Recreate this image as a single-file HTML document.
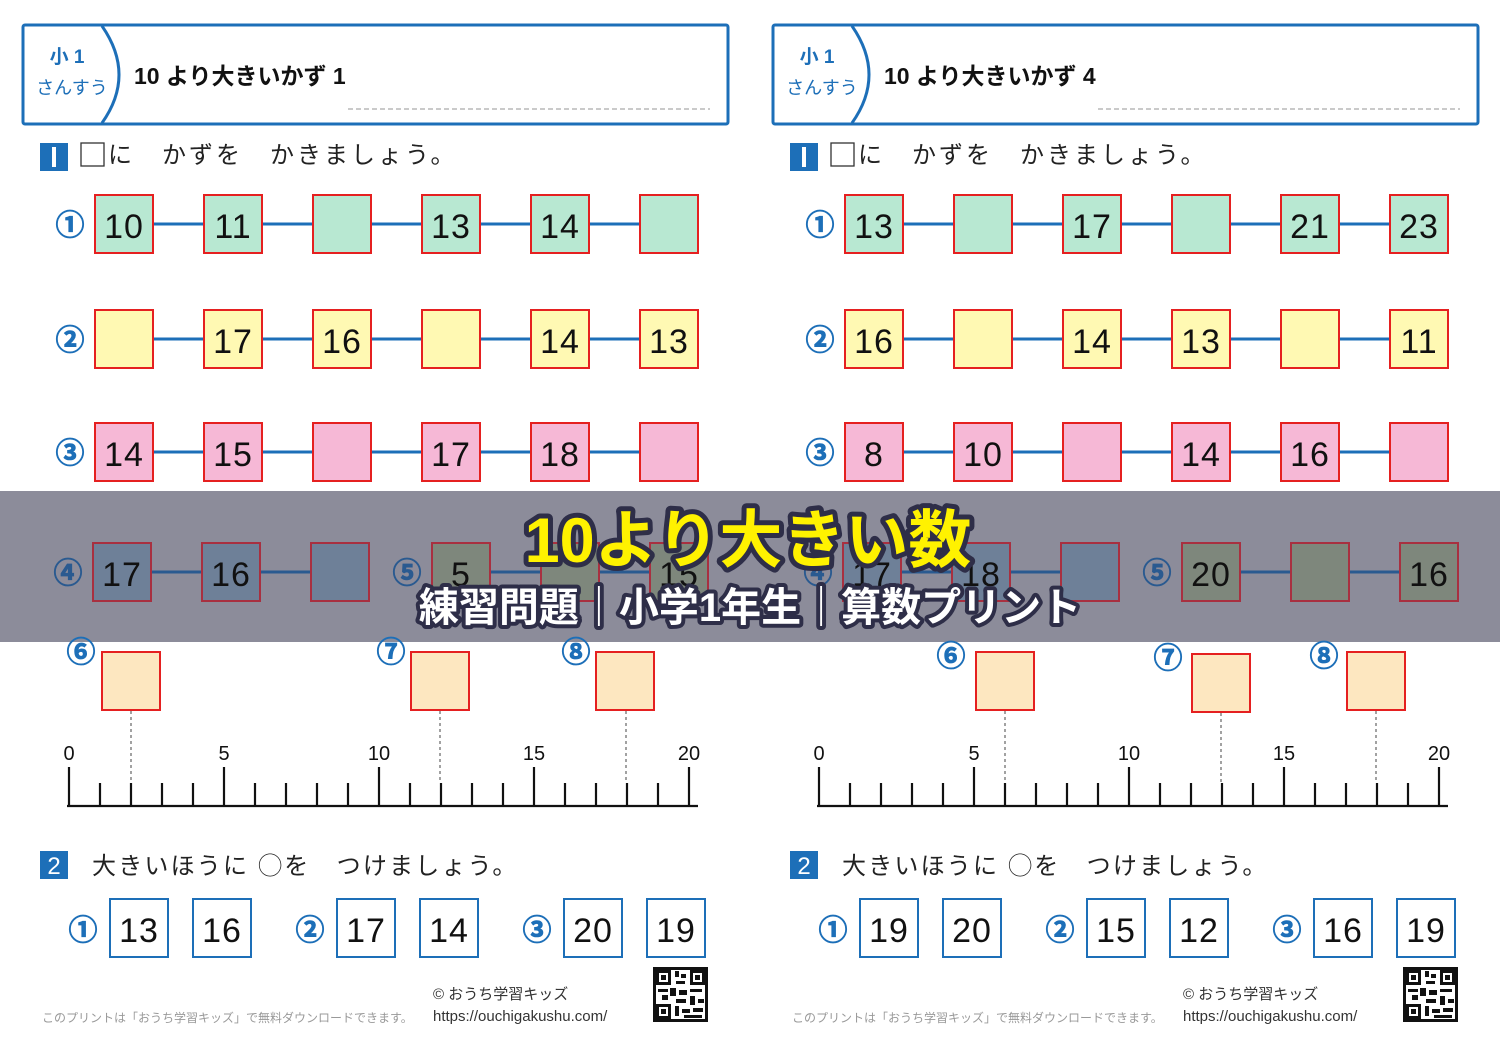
<!DOCTYPE html>
<html><head><meta charset="utf-8"><style>
html,body{margin:0;padding:0;background:#fff}
svg{display:block}
text{font-family:"Liberation Sans","Noto Sans CJK JP",sans-serif}
.n{font-size:34px;fill:#111;text-anchor:middle;letter-spacing:1px}
.c{font-size:29px;fill:#1d6fb8;font-weight:bold;text-anchor:middle;stroke:#1d6fb8;stroke-width:0.8}
.g{fill:#b8e8d2;stroke:#e52020;stroke-width:2}
.y{fill:#fff9b3;stroke:#e52020;stroke-width:2}
.p{fill:#f6b8d6;stroke:#e52020;stroke-width:2}
.o{fill:#fde7c0;stroke:#e52020;stroke-width:2}
.b4{fill:#6e8098;stroke:#a83040;stroke-width:2}
.b5{fill:#7e877c;stroke:#a83040;stroke-width:2}
.bl{fill:#fff;stroke:#1d6fb8;stroke-width:2}
.ln{stroke:#1d6fb8;stroke-width:3}
.l4{stroke:#2a5a90;stroke-width:3}
.lab{font-size:20px;fill:#111;text-anchor:middle}
.tk{stroke:#111;stroke-width:2.2}
.ds{stroke:#444;stroke-width:1;stroke-dasharray:3,3}
.ins{font-size:24px;fill:#222;letter-spacing:3px}
.ins2{font-size:24px;fill:#222;letter-spacing:2.2px}
</style></head><body>
<svg width="1500" height="1052" viewBox="0 0 1500 1052" xmlns="http://www.w3.org/2000/svg">
<!-- LEFT PANEL -->
<g>
<rect x="23" y="25" width="705" height="99" fill="#fff" stroke="#1d6fb8" stroke-width="3" rx="2"/>
<path d="M102 26 Q136 75 102 123" fill="none" stroke="#1d6fb8" stroke-width="3"/>
<text x="67" y="63" font-size="19" font-weight="bold" fill="#1d6fb8" text-anchor="middle">小 1</text>
<text x="72" y="94" font-size="18" fill="#1d6fb8" text-anchor="middle">さんすう</text>
<text x="134" y="84" font-size="23" font-weight="bold" fill="#111">10 より大きいかず 1</text>
<line x1="348" y1="109" x2="710" y2="109" stroke="#aaa" stroke-width="1.2" stroke-dasharray="5,3"/>
<rect x="40" y="143" width="28" height="28" fill="#1d6fb8"/><rect x="52" y="147" width="4" height="20" fill="#fff"/>
<rect x="81" y="143" width="23" height="23" fill="#fff" stroke="#333" stroke-width="1.3"/>
<text x="108" y="163" class="ins">に　かずを　かきましょう。</text>

<line x1="124" y1="224" x2="698" y2="224" class="ln"/>
<text x="70" y="235" class="c">①</text>
<rect x="95" y="195" width="58" height="58" class="g"/><text x="124" y="238" class="n">10</text>
<rect x="204" y="195" width="58" height="58" class="g"/><text x="233" y="238" class="n">11</text>
<rect x="313" y="195" width="58" height="58" class="g"/>
<rect x="422" y="195" width="58" height="58" class="g"/><text x="451" y="238" class="n">13</text>
<rect x="531" y="195" width="58" height="58" class="g"/><text x="560" y="238" class="n">14</text>
<rect x="640" y="195" width="58" height="58" class="g"/>

<line x1="124" y1="339" x2="698" y2="339" class="ln"/>
<text x="70" y="350" class="c">②</text>
<rect x="95" y="310" width="58" height="58" class="y"/>
<rect x="204" y="310" width="58" height="58" class="y"/><text x="233" y="353" class="n">17</text>
<rect x="313" y="310" width="58" height="58" class="y"/><text x="342" y="353" class="n">16</text>
<rect x="422" y="310" width="58" height="58" class="y"/>
<rect x="531" y="310" width="58" height="58" class="y"/><text x="560" y="353" class="n">14</text>
<rect x="640" y="310" width="58" height="58" class="y"/><text x="669" y="353" class="n">13</text>

<line x1="124" y1="452" x2="698" y2="452" class="ln"/>
<text x="70" y="463" class="c">③</text>
<rect x="95" y="423" width="58" height="58" class="p"/><text x="124" y="466" class="n">14</text>
<rect x="204" y="423" width="58" height="58" class="p"/><text x="233" y="466" class="n">15</text>
<rect x="313" y="423" width="58" height="58" class="p"/>
<rect x="422" y="423" width="58" height="58" class="p"/><text x="451" y="466" class="n">17</text>
<rect x="531" y="423" width="58" height="58" class="p"/><text x="560" y="466" class="n">18</text>
<rect x="640" y="423" width="58" height="58" class="p"/>
</g>
<!-- RIGHT PANEL -->
<g>
<rect x="773" y="25" width="705" height="99" fill="#fff" stroke="#1d6fb8" stroke-width="3" rx="2"/>
<path d="M852 26 Q886 75 852 123" fill="none" stroke="#1d6fb8" stroke-width="3"/>
<text x="817" y="63" font-size="19" font-weight="bold" fill="#1d6fb8" text-anchor="middle">小 1</text>
<text x="822" y="94" font-size="18" fill="#1d6fb8" text-anchor="middle">さんすう</text>
<text x="884" y="84" font-size="23" font-weight="bold" fill="#111">10 より大きいかず 4</text>
<line x1="1098" y1="109" x2="1460" y2="109" stroke="#aaa" stroke-width="1.2" stroke-dasharray="5,3"/>
<rect x="790" y="143" width="28" height="28" fill="#1d6fb8"/><rect x="802" y="147" width="4" height="20" fill="#fff"/>
<rect x="831" y="143" width="23" height="23" fill="#fff" stroke="#333" stroke-width="1.3"/>
<text x="858" y="163" class="ins">に　かずを　かきましょう。</text>

<line x1="874" y1="224" x2="1448" y2="224" class="ln"/>
<text x="820" y="235" class="c">①</text>
<rect x="845" y="195" width="58" height="58" class="g"/><text x="874" y="238" class="n">13</text>
<rect x="954" y="195" width="58" height="58" class="g"/>
<rect x="1063" y="195" width="58" height="58" class="g"/><text x="1092" y="238" class="n">17</text>
<rect x="1172" y="195" width="58" height="58" class="g"/>
<rect x="1281" y="195" width="58" height="58" class="g"/><text x="1310" y="238" class="n">21</text>
<rect x="1390" y="195" width="58" height="58" class="g"/><text x="1419" y="238" class="n">23</text>

<line x1="874" y1="339" x2="1448" y2="339" class="ln"/>
<text x="820" y="350" class="c">②</text>
<rect x="845" y="310" width="58" height="58" class="y"/><text x="874" y="353" class="n">16</text>
<rect x="954" y="310" width="58" height="58" class="y"/>
<rect x="1063" y="310" width="58" height="58" class="y"/><text x="1092" y="353" class="n">14</text>
<rect x="1172" y="310" width="58" height="58" class="y"/><text x="1201" y="353" class="n">13</text>
<rect x="1281" y="310" width="58" height="58" class="y"/>
<rect x="1390" y="310" width="58" height="58" class="y"/><text x="1419" y="353" class="n">11</text>

<line x1="874" y1="452" x2="1448" y2="452" class="ln"/>
<text x="820" y="463" class="c">③</text>
<rect x="845" y="423" width="58" height="58" class="p"/><text x="874" y="466" class="n">8</text>
<rect x="954" y="423" width="58" height="58" class="p"/><text x="983" y="466" class="n">10</text>
<rect x="1063" y="423" width="58" height="58" class="p"/>
<rect x="1172" y="423" width="58" height="58" class="p"/><text x="1201" y="466" class="n">14</text>
<rect x="1281" y="423" width="58" height="58" class="p"/><text x="1310" y="466" class="n">16</text>
<rect x="1390" y="423" width="58" height="58" class="p"/>
</g>

<!-- OVERLAY BAND -->
<rect x="0" y="491" width="1500" height="151" fill="#8c8c9a"/>
<g>
<line x1="122" y1="572" x2="340" y2="572" class="l4"/>
<text x="68" y="583" class="c" style="fill:#2a5a90;stroke:#2a5a90">④</text>
<rect x="93" y="543" width="58" height="58" class="b4"/><text x="122" y="586" class="n">17</text>
<rect x="202" y="543" width="58" height="58" class="b4"/><text x="231" y="586" class="n">16</text>
<rect x="311" y="543" width="58" height="58" class="b4"/>
<line x1="461" y1="572" x2="679" y2="572" class="l4"/>
<text x="407" y="583" class="c" style="fill:#2a5a90;stroke:#2a5a90">⑤</text>
<rect x="432" y="543" width="58" height="58" class="b5"/><text x="461" y="586" class="n">5</text>
<rect x="541" y="543" width="58" height="58" class="b5"/>
<rect x="650" y="543" width="58" height="58" class="b5"/><text x="679" y="586" class="n">15</text>

<line x1="872" y1="572" x2="1090" y2="572" class="l4"/>
<text x="818" y="583" class="c" style="fill:#2a5a90;stroke:#2a5a90">④</text>
<rect x="843" y="543" width="58" height="58" class="b4"/><text x="872" y="586" class="n">17</text>
<rect x="952" y="543" width="58" height="58" class="b4"/><text x="981" y="586" class="n">18</text>
<rect x="1061" y="543" width="58" height="58" class="b4"/>
<line x1="1211" y1="572" x2="1429" y2="572" class="l4"/>
<text x="1157" y="583" class="c" style="fill:#2a5a90;stroke:#2a5a90">⑤</text>
<rect x="1182" y="543" width="58" height="58" class="b5"/><text x="1211" y="586" class="n">20</text>
<rect x="1291" y="543" width="58" height="58" class="b5"/>
<rect x="1400" y="543" width="58" height="58" class="b5"/><text x="1429" y="586" class="n">16</text>
</g>
<text x="748" y="562" text-anchor="middle" font-size="63" font-weight="bold" fill="#fff200" stroke="#2e2e48" stroke-width="10" stroke-linejoin="round" style="paint-order:stroke">10より大きい数</text>
<text x="750" y="621" text-anchor="middle" font-size="40" font-weight="bold" fill="#fff" stroke="#2e2e48" stroke-width="8" stroke-linejoin="round" style="paint-order:stroke">練習問題｜小学1年生｜算数プリント</text>

<!-- NUMBER LINE LEFT -->
<g>
<text x="81" y="662" class="c">⑥</text><text x="391" y="662" class="c">⑦</text><text x="576" y="662" class="c">⑧</text>
<rect x="102" y="652" width="58" height="58" class="o"/>
<rect x="411" y="652" width="58" height="58" class="o"/>
<rect x="596" y="652" width="58" height="58" class="o"/>
<line x1="131" y1="711" x2="131" y2="783" class="ds"/>
<line x1="440" y1="711" x2="440" y2="783" class="ds"/>
<line x1="626" y1="711" x2="626" y2="783" class="ds"/>
<text x="69" y="760" class="lab">0</text><text x="224" y="760" class="lab">5</text><text x="379" y="760" class="lab">10</text><text x="534" y="760" class="lab">15</text><text x="689" y="760" class="lab">20</text>
<line x1="67" y1="806" x2="698" y2="806" class="tk"/>
<path class="tk" d="M69 767V806M224 767V806M379 767V806M534 767V806M689 767V806M100 783V806M131 783V806M162 783V806M193 783V806M255 783V806M286 783V806M317 783V806M348 783V806M410 783V806M441 783V806M472 783V806M503 783V806M565 783V806M596 783V806M627 783V806M658 783V806"/>
</g>
<!-- NUMBER LINE RIGHT -->
<g>
<text x="951" y="666" class="c">⑥</text><text x="1168" y="668" class="c">⑦</text><text x="1324" y="666" class="c">⑧</text>
<rect x="976" y="652" width="58" height="58" class="o"/>
<rect x="1192" y="654" width="58" height="58" class="o"/>
<rect x="1347" y="652" width="58" height="58" class="o"/>
<line x1="1005" y1="711" x2="1005" y2="783" class="ds"/>
<line x1="1221" y1="713" x2="1221" y2="783" class="ds"/>
<line x1="1376" y1="711" x2="1376" y2="783" class="ds"/>
<text x="819" y="760" class="lab">0</text><text x="974" y="760" class="lab">5</text><text x="1129" y="760" class="lab">10</text><text x="1284" y="760" class="lab">15</text><text x="1439" y="760" class="lab">20</text>
<line x1="817" y1="806" x2="1448" y2="806" class="tk"/>
<path class="tk" d="M819 767V806M974 767V806M1129 767V806M1284 767V806M1439 767V806M850 783V806M881 783V806M912 783V806M943 783V806M1005 783V806M1036 783V806M1067 783V806M1098 783V806M1160 783V806M1191 783V806M1222 783V806M1253 783V806M1315 783V806M1346 783V806M1377 783V806M1408 783V806"/>
</g>

<!-- SECTION 2 LEFT -->
<g>
<rect x="40" y="851" width="28" height="28" fill="#1d6fb8"/><text x="54" y="874" font-size="24" fill="#fff" text-anchor="middle">2</text>
<text x="92" y="874" class="ins2">大きいほうに ◯を　つけましょう。</text>
<text x="83" y="940" class="c">①</text>
<rect x="110" y="899" width="58" height="58" class="bl"/><text x="139" y="942" class="n">13</text>
<rect x="193" y="899" width="58" height="58" class="bl"/><text x="222" y="942" class="n">16</text>
<text x="310" y="940" class="c">②</text>
<rect x="337" y="899" width="58" height="58" class="bl"/><text x="366" y="942" class="n">17</text>
<rect x="420" y="899" width="58" height="58" class="bl"/><text x="449" y="942" class="n">14</text>
<text x="537" y="940" class="c">③</text>
<rect x="564" y="899" width="58" height="58" class="bl"/><text x="593" y="942" class="n">20</text>
<rect x="647" y="899" width="58" height="58" class="bl"/><text x="676" y="942" class="n">19</text>
<text x="433" y="999" font-size="15" fill="#333">© おうち学習キッズ</text>
<text x="433" y="1021" font-size="15" fill="#333">https://ouchigakushu.com/</text>
<text x="42" y="1022" font-size="12" fill="#999">このプリントは「おうち学習キッズ」で無料ダウンロードできます。</text>
<g fill="#111"><rect x="653" y="967" width="55" height="55"/><rect x="656" y="970" width="49" height="49" fill="#fff"/>
<rect x="656" y="970" width="15" height="15"/><rect x="659" y="973" width="9" height="9" fill="#fff"/><rect x="661" y="975" width="5" height="5"/>
<rect x="690" y="970" width="15" height="15"/><rect x="693" y="973" width="9" height="9" fill="#fff"/><rect x="695" y="975" width="5" height="5"/>
<rect x="656" y="1004" width="15" height="15"/><rect x="659" y="1007" width="9" height="9" fill="#fff"/><rect x="661" y="1009" width="5" height="5"/>
<rect x="675" y="971" width="4" height="6"/><rect x="681" y="974" width="5" height="4"/><rect x="676" y="981" width="9" height="3"/><rect x="658" y="989" width="10" height="3"/><rect x="670" y="988" width="6" height="8"/><rect x="679" y="990" width="8" height="5"/><rect x="690" y="989" width="12" height="3"/><rect x="662" y="995" width="6" height="5"/><rect x="676" y="999" width="10" height="4"/><rect x="690" y="996" width="5" height="9"/><rect x="698" y="999" width="6" height="4"/><rect x="675" y="1006" width="4" height="10"/><rect x="682" y="1009" width="8" height="4"/><rect x="693" y="1008" width="10" height="4"/><rect x="684" y="1015" width="18" height="3"/></g>
</g>
<!-- SECTION 2 RIGHT -->
<g>
<rect x="790" y="851" width="28" height="28" fill="#1d6fb8"/><text x="804" y="874" font-size="24" fill="#fff" text-anchor="middle">2</text>
<text x="842" y="874" class="ins2">大きいほうに ◯を　つけましょう。</text>
<text x="833" y="940" class="c">①</text>
<rect x="860" y="899" width="58" height="58" class="bl"/><text x="889" y="942" class="n">19</text>
<rect x="943" y="899" width="58" height="58" class="bl"/><text x="972" y="942" class="n">20</text>
<text x="1060" y="940" class="c">②</text>
<rect x="1087" y="899" width="58" height="58" class="bl"/><text x="1116" y="942" class="n">15</text>
<rect x="1170" y="899" width="58" height="58" class="bl"/><text x="1199" y="942" class="n">12</text>
<text x="1287" y="940" class="c">③</text>
<rect x="1314" y="899" width="58" height="58" class="bl"/><text x="1343" y="942" class="n">16</text>
<rect x="1397" y="899" width="58" height="58" class="bl"/><text x="1426" y="942" class="n">19</text>
<text x="1183" y="999" font-size="15" fill="#333">© おうち学習キッズ</text>
<text x="1183" y="1021" font-size="15" fill="#333">https://ouchigakushu.com/</text>
<text x="792" y="1022" font-size="12" fill="#999">このプリントは「おうち学習キッズ」で無料ダウンロードできます。</text>
<g fill="#111"><rect x="1403" y="967" width="55" height="55"/><rect x="1406" y="970" width="49" height="49" fill="#fff"/>
<rect x="1406" y="970" width="15" height="15"/><rect x="1409" y="973" width="9" height="9" fill="#fff"/><rect x="1411" y="975" width="5" height="5"/>
<rect x="1440" y="970" width="15" height="15"/><rect x="1443" y="973" width="9" height="9" fill="#fff"/><rect x="1445" y="975" width="5" height="5"/>
<rect x="1406" y="1004" width="15" height="15"/><rect x="1409" y="1007" width="9" height="9" fill="#fff"/><rect x="1411" y="1009" width="5" height="5"/>
<rect x="1425" y="971" width="4" height="6"/><rect x="1431" y="974" width="5" height="4"/><rect x="1426" y="981" width="9" height="3"/><rect x="1408" y="989" width="10" height="3"/><rect x="1420" y="988" width="6" height="8"/><rect x="1429" y="990" width="8" height="5"/><rect x="1440" y="989" width="12" height="3"/><rect x="1412" y="995" width="6" height="5"/><rect x="1426" y="999" width="10" height="4"/><rect x="1440" y="996" width="5" height="9"/><rect x="1448" y="999" width="6" height="4"/><rect x="1425" y="1006" width="4" height="10"/><rect x="1432" y="1009" width="8" height="4"/><rect x="1443" y="1008" width="10" height="4"/><rect x="1434" y="1015" width="18" height="3"/></g>
</g>
</svg>
</body></html>
